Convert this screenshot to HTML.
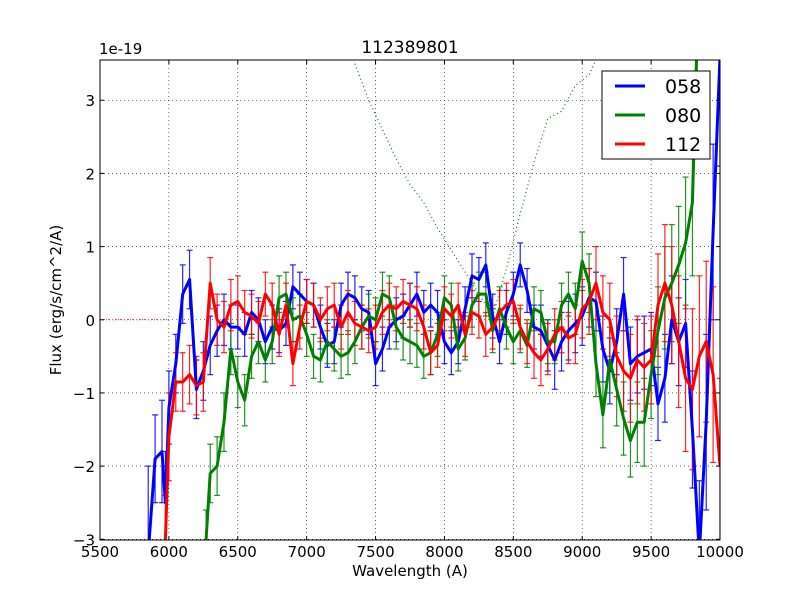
<!DOCTYPE html>
<html><head><meta charset="utf-8"><style>
html,body{margin:0;padding:0;background:#fff;width:800px;height:600px;overflow:hidden}
svg{display:block;font-family:"DejaVu Sans","Liberation Sans",sans-serif}
</style></head><body>
<svg id="chart" width="800" height="600" xmlns="http://www.w3.org/2000/svg">
<rect width="800" height="600" fill="#fff"/>
<defs><clipPath id="pc"><rect x="100" y="60" width="620" height="480"/></clipPath></defs>
<g id="grid"></g>
<g id="marks" clip-path="url(#pc)"></g>
<rect x="100" y="60" width="620" height="480" fill="none" stroke="#000" stroke-width="1"/>
<g id="ticks"></g>
<text x="410" y="53" text-anchor="middle" font-size="17">112389801</text>
<text x="99" y="54" font-size="15">1e-19</text>
<text x="410" y="576" text-anchor="middle" font-size="15">Wavelength (A)</text>
<text transform="translate(61,300) rotate(-90)" text-anchor="middle" font-size="15">Flux (erg/s/cm^2/A)</text>
<g>
<rect x="602" y="71" width="108" height="88" fill="#fff" stroke="#000" stroke-width="1"/>
<line x1="615" y1="86" x2="645" y2="86" stroke="#0000ff" stroke-width="3"/>
<text x="665" y="93" font-size="19">058</text>
<line x1="615" y1="115" x2="645" y2="115" stroke="#008000" stroke-width="3"/>
<text x="665" y="122" font-size="19">080</text>
<line x1="615" y1="144" x2="645" y2="144" stroke="#ff0000" stroke-width="3"/>
<text x="665" y="151" font-size="19">112</text>
</g>
</svg>
<script>
const xTicks=[5500,6000,6500,7000,7500,8000,8500,9000,9500,10000];
const yTicks=[-3,-2,-1,0,1,2,3];
const yTickLabels=["\u22123","\u22122","\u22121","0","1","2","3"];
const wlBlue=[5850,5900,5950,5975,6000,6050,6100,6150,6200,6250,6300,6350,6400,6450,6500,6550,6600,6650,6700,6750,6800,6850,6900,6950,7000,7050,7100,7150,7200,7250,7300,7350,7400,7450,7500,7550,7600,7650,7700,7750,7800,7850,7900,7950,8000,8050,8100,8150,8200,8250,8300,8350,8400,8450,8500,8550,8600,8650,8700,8750,8800,8850,8900,8950,9000,9050,9100,9150,9200,9250,9300,9350,9400,9450,9500,9550,9600,9650,9700,9750,9800,9850,9900,9950,10000];
const fluxBlue=[-3.2,-1.9,-1.8,-2.5,-1.2,-0.6,0.35,0.55,-0.95,-0.7,-0.35,-0.15,0.0,-0.1,-0.1,-0.2,0.1,0.0,-0.3,-0.1,-0.15,-0.05,0.45,0.35,0.25,0.2,-0.1,-0.35,-0.3,0.2,0.35,0.3,0.15,0.1,-0.6,-0.4,-0.1,0.0,0.05,0.2,0.35,0.1,0.2,0.1,-0.3,-0.45,-0.3,0.15,0.6,0.55,0.75,0.05,-0.3,0.1,0.35,0.75,0.4,-0.1,-0.15,-0.35,-0.55,-0.3,-0.15,-0.05,0.05,0.3,0.25,-0.4,-0.7,-0.3,0.35,-0.6,-0.5,-0.45,-0.4,-1.15,-0.8,0.0,-0.3,-0.05,-1.5,-3.2,-1.4,1.2,3.6];
const errBlue=[1.2,0.6,0.7,0.7,0.5,0.4,0.4,0.4,0.4,0.4,0.4,0.35,0.35,0.3,0.3,0.3,0.3,0.3,0.3,0.3,0.3,0.3,0.3,0.3,0.3,0.3,0.3,0.3,0.3,0.3,0.3,0.3,0.3,0.3,0.3,0.3,0.3,0.3,0.3,0.3,0.3,0.3,0.3,0.3,0.3,0.3,0.3,0.3,0.3,0.3,0.3,0.3,0.3,0.3,0.3,0.3,0.3,0.3,0.35,0.35,0.4,0.4,0.4,0.4,0.4,0.4,0.4,0.45,0.45,0.45,0.5,0.5,0.5,0.5,0.5,0.5,0.6,0.6,0.6,0.6,0.8,1.0,1.2,1.2,1.5];
const wlGreen=[6270,6300,6350,6400,6450,6500,6550,6600,6650,6700,6750,6800,6850,6900,6950,7000,7050,7100,7150,7200,7250,7300,7350,7400,7450,7500,7550,7600,7650,7700,7750,7800,7850,7900,7950,8000,8050,8100,8150,8200,8250,8300,8350,8400,8450,8500,8550,8600,8650,8700,8750,8800,8850,8900,8950,9000,9050,9100,9150,9200,9250,9300,9350,9400,9450,9500,9550,9600,9650,9700,9750,9800,9830];
const fluxGreen=[-3.0,-2.1,-2.0,-1.4,-0.4,-0.85,-1.1,-0.5,-0.3,-0.55,-0.3,0.3,0.35,0.0,0.05,-0.2,-0.5,-0.55,-0.3,-0.4,-0.5,-0.45,-0.3,-0.1,0.05,0.0,0.35,0.3,-0.1,-0.25,-0.3,-0.35,-0.5,-0.45,-0.2,0.3,0.2,-0.4,-0.25,0.2,0.35,0.35,-0.15,0.15,-0.1,-0.3,-0.15,-0.35,0.15,0.1,-0.3,-0.3,0.2,0.35,0.15,0.8,0.5,-0.6,-1.3,-0.55,-0.95,-1.35,-1.65,-1.4,-1.4,-0.75,-0.15,0.3,0.5,0.75,1.05,1.6,3.6];
const errGreen=[0.4,0.4,0.4,0.4,0.35,0.35,0.35,0.3,0.3,0.3,0.3,0.3,0.3,0.3,0.3,0.3,0.3,0.3,0.3,0.3,0.3,0.3,0.3,0.3,0.3,0.3,0.3,0.3,0.3,0.3,0.3,0.3,0.3,0.3,0.3,0.3,0.3,0.3,0.3,0.3,0.3,0.3,0.3,0.3,0.3,0.3,0.3,0.3,0.3,0.3,0.3,0.3,0.3,0.3,0.35,0.4,0.4,0.45,0.45,0.45,0.5,0.5,0.5,0.55,0.6,0.6,0.6,0.7,0.8,0.8,0.9,1.0,1.2];
const wlRed=[5975,6000,6050,6100,6150,6200,6250,6300,6350,6400,6450,6500,6550,6600,6650,6700,6750,6800,6850,6900,6950,7000,7050,7100,7150,7200,7250,7300,7350,7400,7450,7500,7550,7600,7650,7700,7750,7800,7850,7900,7950,8000,8050,8100,8150,8200,8250,8300,8350,8400,8450,8500,8550,8600,8650,8700,8750,8800,8850,8900,8950,9000,9050,9100,9150,9200,9250,9300,9350,9400,9450,9500,9550,9600,9650,9700,9750,9800,9850,9900,9950,10000];
const fluxRed=[-3.0,-1.6,-0.85,-0.85,-0.75,-0.9,-0.85,0.5,0.0,-0.1,0.2,0.25,0.1,0.05,-0.05,0.35,0.2,-0.2,0.2,-0.6,-0.1,0.25,0.2,0.0,0.15,0.2,-0.1,0.1,-0.05,-0.1,-0.15,-0.1,0.1,0.2,0.15,0.25,0.2,0.15,-0.1,-0.45,-0.35,0.15,0.05,0.2,-0.2,0.1,0.05,-0.2,-0.1,0.1,0.2,0.25,-0.1,-0.3,-0.45,-0.55,-0.4,-0.2,-0.1,-0.25,-0.2,0.15,0.25,0.5,0.1,0.0,-0.5,-0.7,-0.8,-0.55,-0.65,-0.55,0.2,0.5,0.2,-0.3,-0.8,-0.95,-0.5,-0.3,-0.75,-2.0];
const errRed=[0.6,0.6,0.4,0.4,0.4,0.4,0.4,0.35,0.35,0.35,0.35,0.35,0.3,0.3,0.3,0.3,0.3,0.3,0.3,0.3,0.3,0.3,0.3,0.3,0.3,0.3,0.3,0.3,0.3,0.3,0.3,0.3,0.3,0.3,0.3,0.3,0.3,0.3,0.3,0.3,0.3,0.3,0.3,0.3,0.3,0.3,0.3,0.3,0.3,0.3,0.3,0.3,0.3,0.3,0.35,0.35,0.35,0.35,0.35,0.35,0.4,0.4,0.45,0.5,0.5,0.5,0.55,0.55,0.6,0.6,0.6,0.6,0.7,0.8,0.8,0.9,1.0,1.1,1.1,1.1,1.2,1.2];
const wlDotted=[7350,7450,7550,7650,7750,7850,7950,8050,8150,8250,8350,8450,8550,8650,8750,8850,8950,9050,9100];
const fluxDotted=[3.5,3.0,2.6,2.2,1.85,1.6,1.25,0.95,0.65,0.35,0.05,0.7,1.45,2.15,2.75,2.85,3.2,3.35,3.55];
const wlRefLine=[5500,6000];
const fluxRefLine=[0,0];

const NS="http://www.w3.org/2000/svg";
const X0=5500,X1=10000,PX0=100,PX1=720;
const Y0=-3.01,Y1=3.55,PY0=540,PY1=60;
function xs(v){return PX0+(v-X0)/(X1-X0)*(PX1-PX0);}
function ys(v){return PY0-(v-Y0)/(Y1-Y0)*(PY0-PY1);}
function mk(t,a,p){const e=document.createElementNS(NS,t);for(const k in a)e.setAttribute(k,a[k]);p.appendChild(e);return e;}
const grid=document.getElementById('grid'),ticks=document.getElementById('ticks'),marks=document.getElementById('marks');

xTicks.forEach((t,i)=>{
 const x=xs(t);
 const gl=mk('line',{x1:x,y1:60,x2:x,y2:540,stroke:'#000','stroke-width':0.6,'stroke-dasharray':'1,3'},grid);
 
 
 mk('line',{x1:x,y1:540,x2:x,y2:536,stroke:'#000'},ticks);
 mk('line',{x1:x,y1:60,x2:x,y2:64,stroke:'#000'},ticks);
 const tx=mk('text',{x:x,y:557,'text-anchor':'middle','font-size':15},ticks);
 tx.textContent=t;
 
 
});
yTicks.forEach((t,i)=>{
 const y=ys(t);
 const gl=mk('line',{x1:100,y1:y,x2:720,y2:y,stroke:'#000','stroke-width':0.6,'stroke-dasharray':'1,3'},grid);
 
 
 mk('line',{x1:100,y1:y,x2:104,y2:y,stroke:'#000'},ticks);
 mk('line',{x1:720,y1:y,x2:716,y2:y,stroke:'#000'},ticks);
 const tx=mk('text',{x:95,y:y+6,'text-anchor':'end','font-size':15},ticks);
 tx.textContent=yTickLabels[i];
 
 
});

function pts(w,f){return w.map((v,i)=>xs(v).toFixed(1)+','+ys(f[i]).toFixed(1)).join(' ');}
const ref=mk('polyline',{points:pts(wlRefLine,fluxRefLine),fill:'none',stroke:'#ff0000','stroke-width':1,'stroke-dasharray':'1,2'},marks);


const dot=mk('polyline',{points:pts(wlDotted,fluxDotted),fill:'none',stroke:'#008000','stroke-width':1.2,'stroke-dasharray':'1,3'},marks);



function series(w,f,e,col,name){
 const g=mk('g',{},marks);
 
 
 w.forEach((v,i)=>{
  const x=xs(v),yt=ys(f[i]+e[i]),yb=ys(f[i]-e[i]);
  mk('line',{x1:x,y1:yt,x2:x,y2:yb,stroke:col,'stroke-width':1.2,opacity:0.85},g);
  mk('line',{x1:x-3,y1:yt,x2:x+3,y2:yt,stroke:col,'stroke-width':1.2,opacity:0.85},g);
  mk('line',{x1:x-3,y1:yb,x2:x+3,y2:yb,stroke:col,'stroke-width':1.2,opacity:0.85},g);
 });
 return ()=>{
  const l=mk('polyline',{points:pts(w,f),fill:'none',stroke:col,'stroke-width':3,'stroke-linejoin':'round'},marks);
  
  
 };
}
const lb=series(wlBlue,fluxBlue,errBlue,'#0000ff','series-058');
const lg=series(wlGreen,fluxGreen,errGreen,'#008000','series-080');
const lr=series(wlRed,fluxRed,errRed,'#ff0000','series-112');
lb();lg();lr();
</script>
</body></html>
